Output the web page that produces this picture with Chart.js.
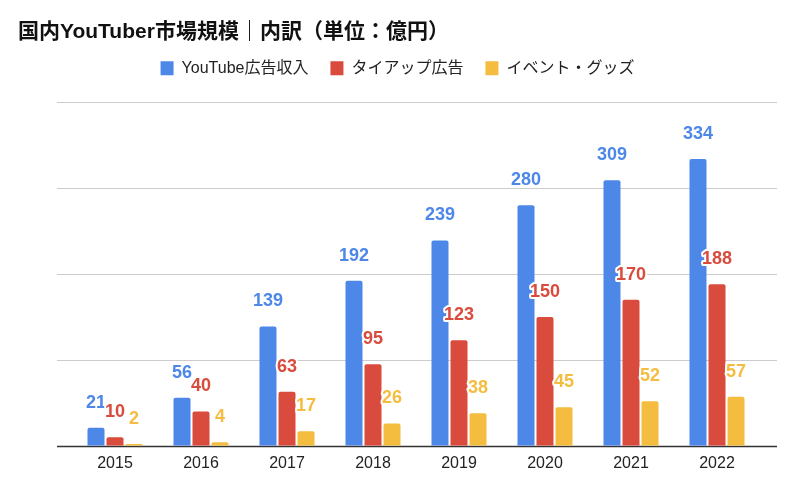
<!DOCTYPE html>
<html>
<head>
<meta charset="utf-8">
<script src="https://cdn.jsdelivr.net/npm/chart.js@4"></script>
<style>
  html, body { margin: 0; padding: 0; background: #fff; }
  #wrap { width: 800px; height: 493px; }
</style>
</head>
<body>
<div id="wrap"><canvas id="chart" width="800" height="493"></canvas></div>
<script>
const years = ['2015', '2016', '2017', '2018', '2019', '2020', '2021', '2022'];
const youtubeAds = [21, 56, 139, 192, 239, 280, 309, 334];
const tieUps = [10, 40, 63, 95, 123, 150, 170, 188];
const eventsGoods = [2, 4, 17, 26, 38, 45, 52, 57];
const gridTicks = [0, 100, 200, 300, 400];

const FONT = 'Arial, "Liberation Sans", "Noto Sans CJK JP", sans-serif';

// gridlines wider than the plot area, like the original
const gridPlugin = {
  id: 'gridLines',
  beforeDatasetsDraw(chart) {
    const { ctx, scales: { y } } = chart;
    ctx.save();
    gridTicks.forEach(v => {
      const py = Math.round(y.getPixelForValue(v));
      ctx.beginPath();
      ctx.lineWidth = v === 0 ? 1.5 : 1;
      ctx.strokeStyle = v === 0 ? '#333' : '#cccccc';
      ctx.moveTo(57, py + 0.5);
      ctx.lineTo(777, py + 0.5);
      ctx.stroke();
    });
    ctx.restore();
  }
};

// values above the bars
const valuePlugin = {
  id: 'valueLabels',
  afterDatasetsDraw(chart) {
    const { ctx } = chart;
    ctx.save();
    ctx.font = 'bold 18px ' + FONT;
    ctx.textAlign = 'center';
    ctx.textBaseline = 'middle';
    ctx.lineJoin = 'round';
    chart.data.datasets.forEach((ds, i) => {
      chart.getDatasetMeta(i).data.forEach((bar, j) => {
        const txt = String(ds.data[j]);
        ctx.lineWidth = 4;
        ctx.strokeStyle = '#fff';
        ctx.strokeText(txt, bar.x, bar.y - 25);
        ctx.fillStyle = ds.backgroundColor;
        ctx.fillText(txt, bar.x, bar.y - 25);
      });
    });
    ctx.restore();
  }
};

const ds = (label, data, color) => ({
  label, data,
  backgroundColor: color,
  borderRadius: 2,
  categoryPercentage: 0.663,
  barPercentage: 0.895
});

new Chart(document.getElementById('chart'), {
  type: 'bar',
  data: {
    labels: years,
    datasets: [
      ds('YouTube広告収入', youtubeAds, '#4d87e8'),
      ds('タイアップ広告', tieUps, '#d94b3c'),
      ds('イベント・グッズ', eventsGoods, '#f4bd3f')
    ]
  },
  options: {
    responsive: false,
    animation: false,
    layout: { padding: { top: 10, left: 18, right: 23, bottom: 20 } },
    plugins: {
      title: {
        display: true,
        text: '国内YouTuber市場規模｜内訳（単位：億円）',
        align: 'start',
        color: '#111',
        font: { family: FONT, size: 21, weight: 'bold' },
        padding: { top: 10, bottom: -7 }
      },
      legend: {
        position: 'top',
        labels: {
          color: '#222',
          font: { family: FONT, size: 16 },
          boxWidth: 13,
          boxHeight: 14,
          padding: 22
        }
      },
      tooltip: { enabled: false }
    },
    scales: {
      x: {
        grid: { display: false },
        border: { display: false },
        ticks: { color: '#222', font: { family: FONT, size: 16 }, padding: 0 }
      },
      x2: {
        type: 'category',
        position: 'top',
        display: true,
        ticks: { display: false },
        grid: { display: false },
        border: { display: false },
        afterFit(scale) { scale.height = 16; }
      },
      y: {
        min: 0,
        max: 400,
        ticks: { display: false, stepSize: 100 },
        grid: { display: false },
        border: { display: false },
        afterFit(scale) { scale.width = 54; }
      },
      y2: {
        position: 'right',
        display: true,
        ticks: { display: false },
        grid: { display: false },
        border: { display: false },
        afterFit(scale) { scale.width = 17; }
      }
    }
  },
  plugins: [gridPlugin, valuePlugin]
});
</script>
</body>
</html>
